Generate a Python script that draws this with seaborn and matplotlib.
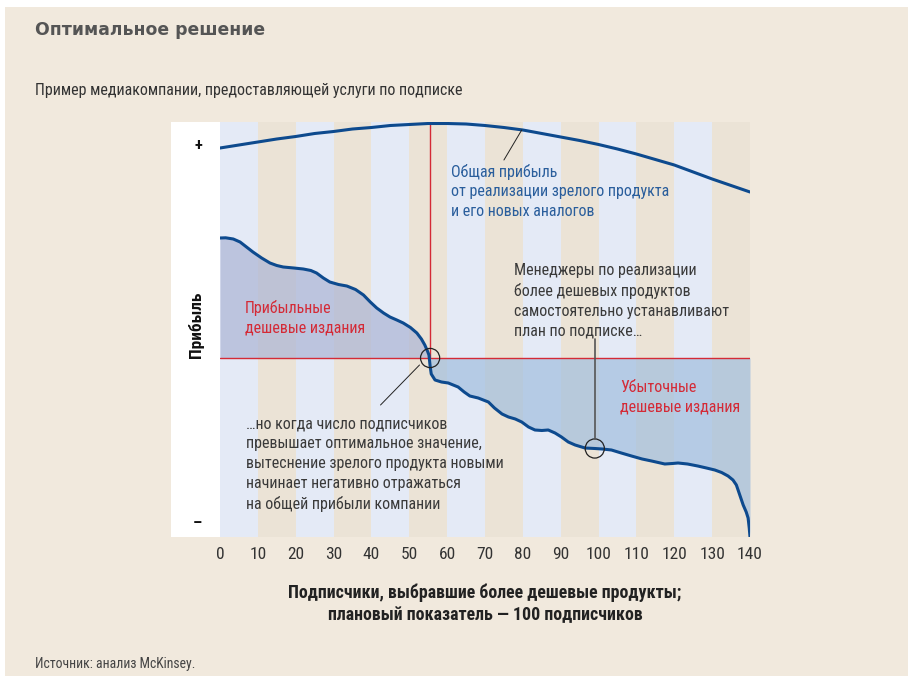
import numpy as np
import matplotlib.pyplot as plt
from matplotlib.patches import Rectangle
import seaborn as sns

# Total company profit (mature product + new cheaper analogues)
total_x = [0, 5, 10, 15, 20, 25, 30, 35, 40, 45, 50, 55, 60, 65, 70, 75, 80,
           85, 90, 95, 100, 105, 110, 115, 120, 125, 130, 135, 140]
total_profit = [21.0, 21.3, 21.6, 21.9, 22.15, 22.45, 22.65, 22.9, 23.05, 23.25,
                23.35, 23.45, 23.45, 23.4, 23.25, 23.05, 22.8, 22.45, 22.1, 21.75,
                21.35, 20.9, 20.4, 19.85, 19.3, 18.6, 17.9, 17.25, 16.6]

# Profit from cheaper editions
cheap_x = [0, 1.5, 3.5, 5.3, 7, 8.7, 11, 13.2, 15, 16.7, 19.5, 22, 24, 25.5,
           27.3, 29, 31.3, 33.5, 35.8, 37.9, 39.7, 41.4, 43.2, 44.9, 46.7, 48.4,
           50.3, 52, 53.2, 54.1, 54.8, 55.2, 55.5, 55.8, 56.8, 58.5, 60.3, 62.9,
           64.5, 66, 68.2, 70.9, 72.5, 74.5, 76.2, 78, 79.7, 81.5, 83.2, 85,
           86.7, 88.5, 90.2, 92, 93.8, 96.4, 99, 101, 103.4, 106, 108.7, 111.5,
           114, 117.5, 119.5, 121, 123.5, 126.2, 128.5, 130.7, 132.5, 134.2,
           135.5, 136.4, 137.3, 138.2, 139, 139.5, 139.8, 140]
cheap_profit = [12.0, 12.02, 11.9, 11.6, 11.1, 10.6, 10.0, 9.5, 9.25, 9.1, 9.0,
                8.9, 8.75, 8.5, 8.0, 7.6, 7.35, 7.2, 6.85, 6.3, 5.6, 5.0, 4.5,
                4.1, 3.8, 3.5, 3.05, 2.5, 1.9, 1.3, 0.7, 0.3, -0.8, -1.6, -2.2,
                -2.4, -2.5, -2.9, -3.4, -3.8, -4.0, -4.4, -5.0, -5.6, -5.9, -6.1,
                -6.4, -6.9, -7.2, -7.25, -7.2, -7.5, -7.9, -8.4, -8.7, -9.0,
                -9.05, -9.1, -9.2, -9.5, -9.8, -10.1, -10.3, -10.6, -10.55, -10.5,
                -10.6, -10.8, -11.0, -11.2, -11.45, -11.8, -12.2, -12.7, -13.7,
                -14.7, -15.4, -16.0, -17.0, -17.9]

tick_values = list(range(0, 150, 10))
optimum = 55.5      # optimal number of subscribers
plan_point = 99     # plan set by the managers (~100)

BG = "#f1e9dd"
DARK_BLUE = "#0d4a8e"
RED = "#d42a36"
TEXT = "#3a3a3a"
NOTE_SIZE = 11.5
NOTE_SPACING = 1.39

sns.set_style("white")
plt.rcParams["font.family"] = ["Roboto Condensed", "Liberation Sans Narrow",
                               "Roboto", "DejaVu Sans"]

fig = plt.figure(figsize=(9.08, 6.78), dpi=100)
fig.patch.set_facecolor("white")
fig.patches.append(Rectangle((5 / 908, 2 / 678), 1, 1 - 9 / 678, transform=fig.transFigure,
                             facecolor=BG, edgecolor="none", zorder=-10))
# white strip behind the +/- marks and y label
fig.patches.append(Rectangle((171 / 908, 1 - 537 / 678), 52 / 908, 415 / 678,
                             transform=fig.transFigure, facecolor="white",
                             edgecolor="none", zorder=-5))

ax = fig.add_axes([220 / 908, 1 - 537 / 678, 530 / 908, 415 / 678])
ax.set_facecolor("none")

# alternating background stripes
for i, left in enumerate(tick_values[:-1]):
    ax.axvspan(left, left + 10, color="#e4eaf6" if i % 2 == 0 else "#ebe3d6",
               lw=0, zorder=0)

cx = np.array(cheap_x)
cy = np.array(cheap_profit)
ax.fill_between(cx, cy, 0, where=cy >= 0, interpolate=True, color="#acb4d5",
                alpha=0.7, lw=0, zorder=1)
ax.fill_between(cx, cy, 0, where=cy <= 0, interpolate=True, color="#a1bede",
                alpha=0.7, lw=0, zorder=1)

ax.axhline(0, color=RED, lw=1.0, zorder=2)
ymin, ymax = -17.9, 23.6
ax.axvline(optimum, ymin=(0 - ymin) / (ymax - ymin), ymax=1, color=RED, lw=1.0, zorder=2)

sns.lineplot(x=total_x, y=total_profit, ax=ax, color=DARK_BLUE, lw=2.2, zorder=4)
sns.lineplot(x=cheap_x, y=cheap_profit, ax=ax, color=DARK_BLUE, lw=2.2, zorder=4,
             sort=False, estimator=None)

# highlight circles
plan_y = np.interp(plan_point, cx, cy)
ax.scatter([optimum, plan_point], [0, plan_y], s=190, facecolors="none",
           edgecolors="#222222", linewidths=0.9, zorder=5)

# annotations
ax.text(61.0, 19.45, "Общая прибыль\nот реализации зрелого продукта\nи его новых аналогов",
        color="#2a5e9c", fontsize=NOTE_SIZE, va="top", ha="left",
        linespacing=NOTE_SPACING, zorder=6)
ax.plot([75.0, 79.7], [19.8, 22.8], color="#222222", lw=0.7, zorder=6)

ax.text(6.6, 5.8, "Прибыльные\nдешевые издания", color=RED, fontsize=NOTE_SIZE,
        va="top", ha="left", linespacing=NOTE_SPACING, zorder=6)
ax.text(105.7, -2.2, "Убыточные\nдешевые издания", color=RED, fontsize=NOTE_SIZE,
        va="top", ha="left", linespacing=NOTE_SPACING, zorder=6)

ax.text(77.7, 9.5, "Менеджеры по реализации\nболее дешевых продуктов\n"
        "самостоятельно устанавливают\nплан по подписке…", color=TEXT,
        fontsize=NOTE_SIZE, va="top", ha="left", linespacing=NOTE_SPACING, zorder=6)
ax.plot([plan_point, plan_point], [1.9, plan_y + 1.0], color="#555555", lw=1.2, zorder=6)

ax.text(6.8, -5.85, "…но когда число подписчиков\nпревышает оптимальное значение,\n"
        "вытеснение зрелого продукта новыми\nначинает негативно отражаться\n"
        "на общей прибыли компании", color=TEXT, fontsize=NOTE_SIZE, va="top",
        ha="left", linespacing=NOTE_SPACING, zorder=6)
ax.plot([42.4, 52.7], [-4.7, -0.7], color="#222222", lw=0.7, zorder=6)

ax.set_xlim(0, 140)
ax.set_ylim(ymin, ymax)
sns.despine(ax=ax, left=True, bottom=True)

ax.set_xticks(tick_values)
ax.tick_params(axis="x", length=0, pad=7, labelsize=12.5, labelcolor="#333333")
ax.set_yticks([21.4, -16.4])
ax.set_yticklabels(["+", "–"], fontweight="bold", fontsize=12, color="#111111")
ax.tick_params(axis="y", length=0, pad=13)

ax.set_xlabel("Подписчики, выбравшие более дешевые продукты;\nплановый показатель — 100 подписчиков",
              fontsize=12.9, fontweight="bold", color="#222222", labelpad=16, linespacing=1.27)
ax.set_ylabel("Прибыль", fontsize=12.5, fontweight="bold", color="#111111")
ax.yaxis.set_label_coords(-0.030, 0.511)

fig.text(35 / 908, 1 - 35 / 678, "Оптимальное решение", fontsize=12.4, fontweight="bold",
         family="DejaVu Sans", color="#555555", va="baseline", ha="left")
fig.text(35 / 908, 1 - 95 / 678, "Пример медиакомпании, предоставляющей услуги по подписке",
         fontsize=11.5, color="#333333", va="baseline", ha="left")
fig.text(35 / 908, 1 - 668 / 678, "Источник: анализ McKinsey.", fontsize=9.9,
         color="#444444", va="baseline", ha="left")

fig.savefig("out.png", dpi=100, facecolor=fig.get_facecolor())
